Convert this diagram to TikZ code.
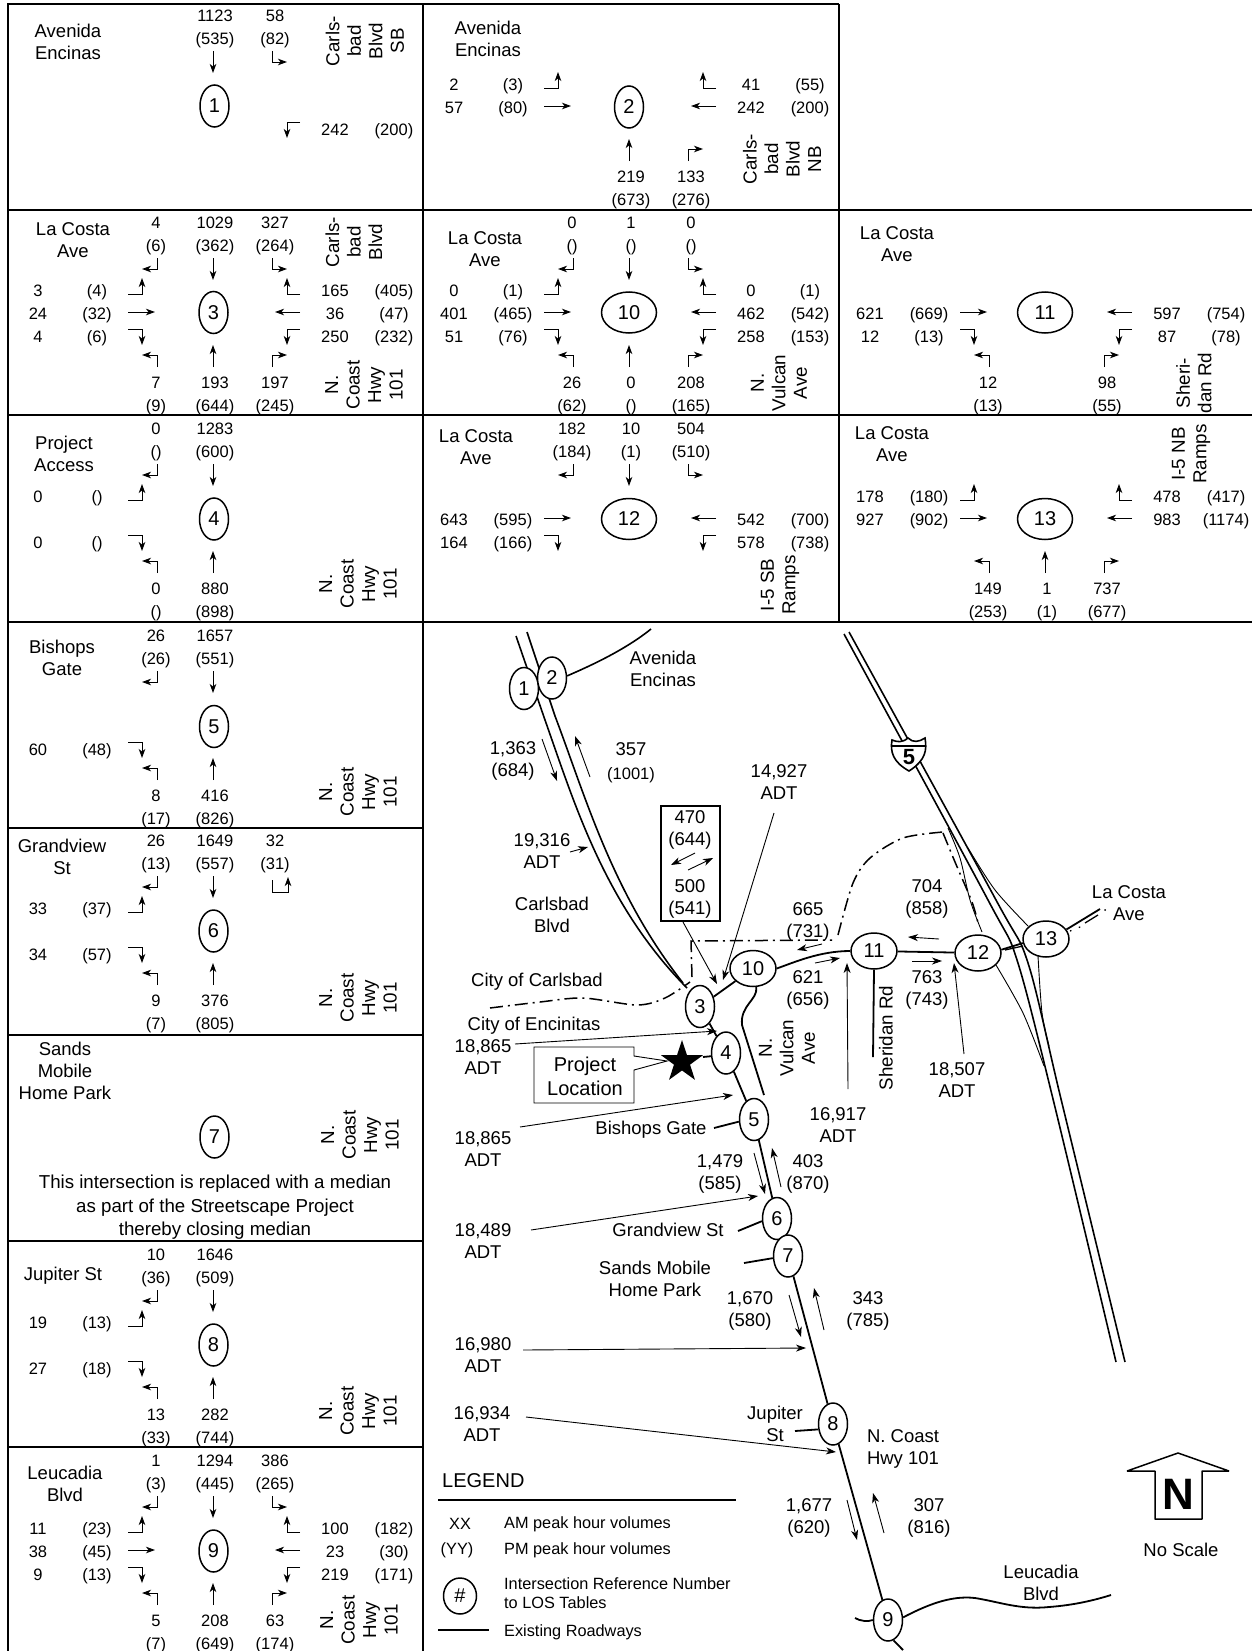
\documentclass[tikz,border=0pt]{standalone}
\usepackage{fontspec}
\setmainfont{Liberation Sans}
\usetikzlibrary{arrows.meta,shapes.geometric}
\newcommand{\sbl}[2]{\draw[mv] (-56,-54)--(-56,-43)--(-71,-43);\node[vol] (sbla) at (-57,-90) {#1};\node[vol] (sblb) at (-57,-67) {#2};}
\newcommand{\sbt}[2]{\draw[mv] (0,-54)--(0,-32);\node[vol] (sbta) at (2,-90) {#1};\node[vol] (sbtb) at (2,-67) {#2};}
\newcommand{\sbr}[2]{\draw[mv] (59,-54)--(59,-43)--(74,-43);\node[vol] (sbra) at (62,-90) {#1};\node[vol] (sbrb) at (62,-67) {#2};}
\newcommand{\ebl}[2]{\draw[mv] (-85,-18)--(-71,-18)--(-71,-34);\node[vol] (ebla) at (-175,-22) {#1};\node[vol] (eblb) at (-116,-22) {#2};}
\newcommand{\ebt}[2]{\draw[mv] (-85,0)--(-58,0);\node[vol] (ebta) at (-175,1) {#1};\node[vol] (ebtb) at (-116,1) {#2};}
\newcommand{\ebr}[2]{\draw[mv] (-85,17)--(-71,17)--(-71,33);\node[vol] (ebra) at (-175,24) {#1};\node[vol] (ebrb) at (-116,24) {#2};}
\newcommand{\wbr}[2]{\draw[mv] (87,-18)--(74,-18)--(74,-34);\node[vol] (wbra) at (122,-22) {#1};\node[vol] (wbrb) at (181,-22) {#2};}
\newcommand{\wbt}[2]{\draw[mv] (87,0)--(62,0);\node[vol] (wbta) at (122,1) {#1};\node[vol] (wbtb) at (181,1) {#2};}
\newcommand{\wbl}[2]{\draw[mv] (87,17)--(74,17)--(74,33);\node[vol] (wbla) at (122,24) {#1};\node[vol] (wblb) at (181,24) {#2};}
\newcommand{\nbl}[2]{\draw[mv] (-56,55)--(-56,43)--(-71,43);\node[vol] (nbla) at (-57,70) {#1};\node[vol] (nblb) at (-57,93) {#2};}
\newcommand{\nbt}[2]{\draw[mv] (0,55)--(0,33);\node[vol] (nbta) at (2,70) {#1};\node[vol] (nbtb) at (2,93) {#2};}
\newcommand{\nbr}[2]{\draw[mv] (59,55)--(59,43)--(74,43);\node[vol] (nbra) at (62,70) {#1};\node[vol] (nbrb) at (62,93) {#2};}

\begin{document}
\begin{tikzpicture}[
 x=1pt,y=-1pt,
 grid/.style={line width=1.6pt},
 mv/.style={-{Stealth[length=9pt,width=6.5pt,inset=2.5pt]},line width=.9pt},
 lead/.style={-{Stealth[length=10pt,width=7pt,inset=3pt]},line width=.9pt},
 road/.style={line width=1.8pt},
 ramp/.style={line width=.9pt},
 city/.style={line width=1.5pt,dash pattern=on 13pt off 5pt on 2pt off 5pt},
 vol/.style={font=\fontsize{16.5}{20}\selectfont,inner sep=0pt,text height=14.5pt,text depth=1.5pt},
 lbl/.style={font=\fontsize{18.5}{22}\selectfont,inner sep=0pt,align=center},
 rot/.style={font=\fontsize{18.8}{21.5}\selectfont,inner sep=0pt,align=center,rotate=90},
 key/.style={font=\fontsize{16.3}{20}\selectfont,inner sep=0pt,anchor=west},
 oval/.style={draw,ellipse,line width=1.5pt,fill=white,inner sep=0pt,minimum width=29pt,minimum height=42pt,font=\fontsize{20}{24}\selectfont},
 wide/.style={draw,ellipse,line width=1.5pt,fill=white,inner sep=0pt,minimum width=55pt,minimum height=41pt,font=\fontsize{20}{24}\selectfont},
 mapwide/.style={draw,ellipse,line width=1.5pt,fill=white,inner sep=0pt,minimum width=46pt,minimum height=36pt,font=\fontsize{20}{24}\selectfont}]
\useasboundingbox (0,0) rectangle (1252,1651);
% frame of the panels
\draw[grid] (8,1651)--(8,4)--(839,4);
\draw[grid] (423,4)--(423,1651);
\draw[grid,line width=1.2pt] (839,4)--(839,622);
\draw[grid] (8,210)--(1252,210);
\draw[grid] (8,415)--(1252,415);
\draw[grid] (8,622)--(1252,622);
\draw[grid] (8,828)--(423,828);
\draw[grid] (8,1035)--(423,1035);
\draw[grid] (8,1241)--(423,1241);
\draw[grid] (8,1447)--(423,1447);
% intersection panels
\begin{scope}[shift={(213,105)},name prefix=p1-]
\node[oval] (num) at (1.5,1) {1};
\sbt{1123}{(535)} \sbr{58}{(82)} \wbl{242}{(200)}
\end{scope}
\begin{scope}[shift={(629,106)},name prefix=p2-]
\node[oval] (num) at (0,1) {2};
\ebl{2}{(3)} \ebt{57}{(80)} \wbr{41}{(55)} \wbt{242}{(200)} \nbt{219}{(673)} \nbr{133}{(276)}
\end{scope}
\begin{scope}[shift={(213,312)},name prefix=p3-]
\node[oval] (num) at (0.5,0.5) {3};
\sbl{4}{(6)} \sbt{1029}{(362)} \sbr{327}{(264)} \ebl{3}{(4)} \ebt{24}{(32)} \ebr{4}{(6)}
\wbr{165}{(405)} \wbt{36}{(47)} \wbl{250}{(232)} \nbl{7}{(9)} \nbt{193}{(644)} \nbr{197}{(245)}
\end{scope}
\begin{scope}[shift={(213,518)},name prefix=p4-]
\node[oval] (num) at (1,1) {4};
\sbl{0}{()} \sbt{1283}{(600)} \ebl{0}{()} \ebr{0}{()} \nbl{0}{()} \nbt{880}{(898)}
\end{scope}
\begin{scope}[shift={(213,725)},name prefix=p5-]
\node[oval] (num) at (1,1.5) {5};
\sbl{26}{(26)} \sbt{1657}{(551)} \ebr{60}{(48)} \nbl{8}{(17)} \nbt{416}{(826)}
\end{scope}
\begin{scope}[shift={(213,930)},name prefix=p6-]
\node[oval] (num) at (0.5,1) {6};
\sbl{26}{(13)} \sbt{1649}{(557)} \ebl{33}{(37)} \ebr{34}{(57)} \nbl{9}{(7)} \nbt{376}{(805)}
\draw[mv] (59,-50)--(59,-38)--(75,-38)--(75,-53);
\node[vol] (sbra) at (62,-90) {32};
\node[vol] (sbrb) at (62,-67) {(31)};
\end{scope}
\node[oval] (p7-num) at (214.5,1137) {7};
\begin{scope}[shift={(213,1344)},name prefix=p8-]
\node[oval] (num) at (0.5,1) {8};
\sbl{10}{(36)} \sbt{1646}{(509)} \ebl{19}{(13)} \ebr{27}{(18)} \nbl{13}{(33)} \nbt{282}{(744)}
\end{scope}
\begin{scope}[shift={(213,1550)},name prefix=p9-]
\node[oval] (num) at (0.5,1) {9};
\sbl{1}{(3)} \sbt{1294}{(445)} \sbr{386}{(265)} \ebl{11}{(23)} \ebt{38}{(45)} \ebr{9}{(13)}
\wbr{100}{(182)} \wbt{23}{(30)} \wbl{219}{(171)} \nbl{5}{(7)} \nbt{208}{(649)} \nbr{63}{(174)}
\end{scope}
\begin{scope}[shift={(629,312)},name prefix=p10-]
\node[wide] (num) at (0,0.5) {10};
\sbl{0}{()} \sbt{1}{()} \sbr{0}{()} \ebl{0}{(1)} \ebt{401}{(465)} \ebr{51}{(76)}
\wbr{0}{(1)} \wbt{462}{(542)} \wbl{258}{(153)} \nbl{26}{(62)} \nbt{0}{()} \nbr{208}{(165)}
\end{scope}
\begin{scope}[shift={(1045,312)},name prefix=p11-]
\node[wide] (num) at (0,0.5) {11};
\ebt{621}{(669)} \ebr{12}{(13)} \wbt{597}{(754)} \wbl{87}{(78)} \nbl{12}{(13)} \nbr{98}{(55)}
\end{scope}
\begin{scope}[shift={(629,518)},name prefix=p12-]
\node[wide] (num) at (0,1) {12};
\sbl{182}{(184)} \sbt{10}{(1)} \sbr{504}{(510)} \ebt{643}{(595)} \ebr{164}{(166)} \wbt{542}{(700)} \wbl{578}{(738)}
\end{scope}
\begin{scope}[shift={(1045,518)},name prefix=p13-]
\node[wide] (num) at (0,1) {13};
\ebl{178}{(180)} \ebt{927}{(902)} \wbr{478}{(417)} \wbt{983}{(1174)} \nbl{149}{(253)} \nbt{1}{(1)} \nbr{737}{(677)}
\end{scope}
% street names of the panels
\node[lbl] (s1) at (68,42) {Avenida\\Encinas};
\node[rot] (r1) at (365,41) {Carls-\\bad\\Blvd\\SB};
\node[lbl] (s2) at (488,39) {Avenida\\Encinas};
\node[rot] (r2) at (782,159) {Carls-\\bad\\Blvd\\NB};
\node[lbl] (s3) at (73,240) {La Costa\\Ave};
\node[rot] (r3a) at (354,242) {Carls-\\bad\\Blvd};
\node[rot] (r3b) at (364,385) {N.\\Coast\\Hwy\\101};
\node[lbl] (s10) at (485,249) {La Costa\\Ave};
\node[rot] (r10) at (779,383) {N.\\Vulcan\\Ave};
\node[lbl] (s11) at (897,244) {La Costa\\Ave};
\node[rot] (r11) at (1194,383) {Sheri-\\dan Rd};
\node[lbl] (s4) at (64,454) {Project\\Access};
\node[rot] (r4) at (358,584) {N.\\Coast\\Hwy\\101};
\node[lbl] (s12) at (476,447) {La Costa\\Ave};
\node[rot] (r12) at (780,585) {I-5 SB\\Ramps};
\node[lbl] (s13) at (892,444) {La Costa\\Ave};
\node[rot] (r13) at (1191,454) {I-5 NB\\Ramps};
\node[lbl] (s5) at (62,658) {Bishops\\Gate};
\node[rot] (r5) at (358,792) {N.\\Coast\\Hwy\\101};
\node[lbl] (s6) at (62,857) {Grandview\\St};
\node[rot] (r6) at (358,998) {N.\\Coast\\Hwy\\101};
\node[lbl] (s7) at (65,1071) {Sands\\Mobile\\Home Park};
\node[rot] (r7) at (360,1135) {N.\\Coast\\Hwy\\101};
\node[lbl,font=\fontsize{18.7}{22}\selectfont] (note7) at (215,1207.5) {This intersection is replaced with a median\\[1.5pt]as part of the Streetscape Project\\[1.5pt]thereby closing median};
\node[lbl] (s8) at (63,1276) {Jupiter St};
\node[rot] (r8) at (358,1411) {N.\\Coast\\Hwy\\101};
\node[lbl] (s9) at (65,1484) {Leucadia\\Blvd};
\node[rot] (r9) at (359,1620) {N.\\Coast\\Hwy\\101};
% freeway, ramps and city limit
\draw[road,line width=1.6pt] plot[smooth] coordinates {(844,634) (988,900) (1017,960) (1053,1099) (1116,1362)};
\draw[road,line width=1.6pt] plot[smooth] coordinates {(849,632) (996,900) (1028,963) (1061,1099) (1125,1362)};
\draw[ramp] plot[smooth] coordinates {(968,848) (995,890) (1028,926)};
\draw[ramp] plot[smooth] coordinates {(948,828) (960,858) (970,900) (982,932)};
\draw[ramp] plot[smooth] coordinates {(996,965) (1023,1013) (1044,1066)};
\draw[ramp] plot[smooth] coordinates {(1038,956) (1042,1013) (1049,1046)};
\draw[city] plot[smooth] coordinates {(490,1008) (540,1002) (583,998) (637,1005) (665,998) (690,982)};
\draw[city] (692,977)--(691,941)--(832,940);
\draw[city] plot[smooth] coordinates {(838,935) (853,883) (870,858) (903,838) (943,832)};
\draw[city] plot[smooth] coordinates {(943,833) (955,862) (972,902) (978,923)};
\draw[line width=1.6pt,fill=white] (892,740) .. controls (897,742) and (902,743) .. (908,738) .. controls (913,743) and (919,742) .. (925,738) .. controls (927,750) and (926,760) .. (909,771) .. controls (893,762) and (890,752) .. (892,740) -- cycle;
\draw[line width=1.2pt] (892,746)--(925,746);
\node[inner sep=0pt,font=\fontsize{22}{24}\bfseries\selectfont] (shield5) at (909,757.5) {5};
\draw[road,line width=1.6pt] (516,636)--(545,720) .. controls (575,805) and (605,905) .. (687,988);
\draw[road,line width=1.6pt] (527,632)--(555,716) .. controls (585,795) and (612,893) .. (683,983);
% intersections on the map
\node[oval] (m1) at (524,688.5) {1};
\node[oval] (m2) at (552,678) {2};
\node[oval] (m3) at (700,1006.5) {3};
\node[oval] (m4) at (726,1053) {4};
\node[oval] (m5) at (754,1119.5) {5};
\node[oval] (m6) at (777,1218.5) {6};
\node[oval] (m7) at (788,1256) {7};
\node[oval] (m8) at (833,1424) {8};
\node[oval] (m9) at (888,1620) {9};
\node[mapwide] (m10) at (753,968.5) {10};
\node[mapwide] (m11) at (874,951) {11};
\node[mapwide] (m12) at (978,953) {12};
\node[mapwide] (m13) at (1046,939) {13};
% roads between them
\draw[road,line width=1.6pt] (m2.8) .. controls (590,666) and (625,650) .. (651,629);
\draw[road] (m3)--(m10);
\draw[road] (m3)--(m4);
\draw[road] (m4)--(m5);
\draw[road] (m5)--(m6);
\draw[road] (m7)--(m8);
\draw[road] (m8)--(m9);
\draw[road] (m10.east) .. controls (795,962) and (820,951) .. (m11.west);
\draw[road] (m11)--(m12);
\draw[road] (m10.-80) .. controls (758,1000) and (740,1005) .. (742,1025) -- (764,1095);
\draw[road] (m11.south)--(873,1057);
\draw[road] (m5.188)--(714,1128);
\draw[road] (m6.190)--(738,1231);
\draw[road] (m7.188)--(744,1263);
\draw[road] (m8.200)--(795,1431);
\draw[road] (m9.west) .. controls (868,1622) and (860,1621) .. (855,1618);
\draw[road] (m9.10) .. controls (925,1606) and (950,1595) .. (975,1598) .. controls (1000,1602) and (1020,1610) .. (1049,1607) .. controls (1075,1605) and (1095,1600) .. (1111,1595);
\draw[road] (m9.-75)--(903,1650);
\draw[road] (m12.8)--(m13.190);
\draw[road,line width=1.3pt] (1005,950)--(1023,946);
\draw[road] (m13.25)--(1100,909);
\draw[road,line width=1.3pt] (1085,923)--(1098,915);
\draw[line width=1.3pt,dash pattern=on 1.5pt off 8pt] (1070,931)--(1085,925);
\fill (1105,910) circle (1pt);
% project location
\draw[ramp] (534,1047)--(634,1047)--(634,1056)--(667,1061)--(634,1070)--(634,1103)--(534,1103)--cycle;
\node[lbl,font=\fontsize{20}{24}\selectfont] (prj) at (585,1076) {Project\\Location};
\node[star,star points=5,star point ratio=2.6,fill=black,minimum size=44pt,inner sep=0pt] (sitestar) at (682,1062) {};
\draw[road] (703,1057)--(m4.192);
% flow arrows along the roads
\draw[lead] (542,739)--(557,781);
\draw[lead] (590,777)--(575,736);
\draw[lead] (570,852)--(588,847);
\draw[lead] (695,853)--(671,865);
\draw[lead] (688,870)--(713,858);
\draw[lead] (683,922)--(717,984);
\draw[lead] (774,813)--(723,980);
\draw[lead] (822,944)--(797,950);
\draw[lead] (815,963)--(840,958);
\draw[lead] (939,939)--(908,937);
\draw[lead] (912,961)--(942,961);
\draw[lead] (848,1089)--(847,963);
\draw[lead] (964,1054)--(954,963);
\draw[lead] (515,1044)--(717,1031);
\draw[lead] (520,1127)--(733,1095);
\draw[lead] (531,1230)--(758,1196);
\draw[lead] (523,1350)--(806,1348);
\draw[lead] (526,1417)--(836,1452);
\draw[lead] (754,1153)--(765,1194);
\draw[lead] (781,1187)--(772,1148);
\draw[lead] (789,1295)--(801,1337);
\draw[lead] (824,1330)--(814,1288);
\draw[lead] (847,1500)--(857,1540);
\draw[lead] (884,1533)--(873,1493);
\node[draw,line width=1.5pt,minimum width=59pt,minimum height=115pt,inner sep=0pt] (boxfl) at (690.5,863.5) {};
% map labels
\node[lbl] (lAve) at (663,669) {Avenida\\Encinas};
\node[lbl] (l1363) at (513,761) {1,363\\(684)};
\node[lbl] (l357) at (631,749) {357};
\node[vol] (l1001) at (631,773) {(1001)};
\node[lbl] (l14927) at (779,782.5) {14,927\\ADT};
\node[lbl] (l470) at (690,830) {470\\(644)};
\node[lbl] (l500) at (690,899) {500\\(541)};
\node[lbl] (l19316) at (542,851) {19,316\\ADT};
\node[lbl] (lCarl) at (552,915) {Carlsbad\\Blvd};
\node[lbl] (lCiC) at (537,982) {City of Carlsbad};
\node[lbl] (lCiE) at (534,1026) {City of Encinitas};
\node[lbl] (l18865a) at (483,1057) {18,865\\ADT};
\node[lbl] (l18865b) at (483,1149) {18,865\\ADT};
\node[lbl] (l18489) at (483,1241) {18,489\\ADT};
\node[lbl] (l16980) at (483,1355) {16,980\\ADT};
\node[lbl] (l16934) at (482,1424) {16,934\\ADT};
\node[lbl] (lBish) at (651,1130) {Bishops Gate};
\node[lbl] (lGrand) at (668,1230) {Grandview St};
\node[lbl] (lSands) at (655,1279) {Sands Mobile\\Home Park};
\node[lbl] (lJup) at (775,1424) {Jupiter\\St};
\node[lbl] (lNCoast) at (903,1449) {N. Coast\\Hwy 101};
\node[lbl] (l1479) at (720,1174) {1,479\\(585)};
\node[lbl] (l403) at (808,1174) {403\\(870)};
\node[lbl] (l1670) at (750,1311) {1,670\\(580)};
\node[lbl] (l343) at (868,1311) {343\\(785)};
\node[lbl] (l1677) at (809,1518) {1,677\\(620)};
\node[lbl] (l307) at (929,1518) {307\\(816)};
\node[lbl] (l665) at (808,922) {665\\(731)};
\node[lbl] (l621) at (808,990) {621\\(656)};
\node[lbl] (l704) at (927,899) {704\\(858)};
\node[lbl] (l763) at (927,990) {763\\(743)};
\node[lbl] (l16917) at (838,1125.5) {16,917\\ADT};
\node[lbl] (l18507) at (957,1080) {18,507\\ADT};
\node[lbl] (lLaC) at (1129,903) {La Costa\\Ave};
\node[lbl] (lLeu) at (1041,1583) {Leucadia\\Blvd};
\node[rot] (lVul) at (787,1048) {N.\\Vulcan\\Ave};
\node[rot] (lSher) at (886,1038) {Sheridan Rd};
% north arrow
\draw[line width=1.5pt,line join=bevel] (1178,1453)--(1229,1471)--(1202,1471)--(1202,1519)--(1155,1519)--(1155,1471)--(1127,1471)--cycle;
\node[inner sep=0pt,font=\fontsize{44}{48}\bfseries\selectfont] (north) at (1178,1494) {N};
\node[lbl] (lScale) at (1181,1550) {No Scale};
% legend
\node[lbl,font=\fontsize{20}{24}\selectfont,anchor=west] (lLeg) at (442,1481) {LEGEND};
\draw[line width=1.6pt] (438,1500)--(736,1500);
\node[key,anchor=center] (kXX) at (460,1524) {XX};
\node[key] (kAM) at (504,1524) {AM peak hour volumes};
\node[key,anchor=center] (kYY) at (457,1550) {(YY)};
\node[key] (kPM) at (504,1550) {PM peak hour volumes};
\node[oval,minimum width=33pt,minimum height=36pt] (kNum) at (460,1596) {\#};
\node[key] (kRef) at (504,1584) {Intersection Reference Number};
\node[key] (kLos) at (504,1603) {to LOS Tables};
\coordinate (kRoadA) at (438,1630);
\coordinate (kRoadB) at (489,1630);
\draw[line width=1.2pt] (kRoadA)--(kRoadB);
\node[key] (kEx) at (504,1632) {Existing Roadways};
\end{tikzpicture}
\end{document}
